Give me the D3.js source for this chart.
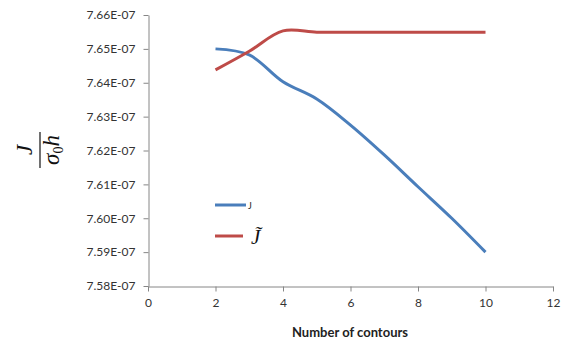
<!DOCTYPE html>
<html>
<head>
<meta charset="utf-8">
<script src="https://cdn.jsdelivr.net/npm/d3@7"></script>
<style>
  body { margin: 0; background: #fff; }
  svg text { font-family: Lato, "Open Sans", sans-serif; }
</style>
</head>
<body>
<div id="chart"></div>
<script>
// Chart data
const contours = [2, 3, 4, 5, 6, 7, 8, 9, 10];
const jValues = [7.650e-7, 7.6482e-7, 7.6403e-7, 7.6352e-7, 7.6275e-7, 7.6187e-7, 7.6093e-7, 7.6000e-7, 7.5900e-7];
const jTildeValues = [7.6438e-7, 7.6493e-7, 7.6553e-7, 7.6549e-7, 7.6549e-7, 7.6549e-7, 7.6549e-7, 7.6549e-7, 7.6549e-7];
const xTicks = [0, 2, 4, 6, 8, 10, 12];
const yTicks = [7.58e-7, 7.59e-7, 7.60e-7, 7.61e-7, 7.62e-7, 7.63e-7, 7.64e-7, 7.65e-7, 7.66e-7];
const seriesNames = ['J', 'J\u0303'];
const seriesColors = ['#4a7ebb', '#be4b48'];
const xTitle = 'Number of contours';

const width = 561, height = 342;
const margin = {top: 15, right: 8, bottom: 56, left: 148};

const svg = d3.select('#chart')
  .append('svg')
  .attr('width', width)
  .attr('height', height);

const x = d3.scaleLinear().domain([0, 12]).range([margin.left, width - margin.right]);
const y = d3.scaleLinear().domain([7.58e-7, 7.66e-7]).range([height - margin.bottom, margin.top]);

// Axes
const axisColor = '#868686';

const gY = svg.append('g')
  .attr('transform', 'translate(' + (margin.left + 0.5) + ',0)')
  .call(d3.axisLeft(y)
    .tickValues(yTicks)
    .tickSize(5)
    .tickSizeOuter(0)
    .tickPadding(8)
    .tickFormat(d => (d * 1e7).toFixed(2) + 'E-07'));

const gX = svg.append('g')
  .attr('transform', 'translate(0,' + (y.range()[0] + 0.5) + ')')
  .call(d3.axisBottom(x)
    .tickValues(xTicks)
    .tickSize(5)
    .tickSizeOuter(0)
    .tickPadding(7)
    .tickFormat(d3.format('d')));

[gX, gY].forEach(g => {
  g.select('.domain').attr('stroke', axisColor);
  g.selectAll('.tick line').attr('stroke', axisColor);
  g.selectAll('.tick text')
    .attr('fill', '#333')
    .style('font-size', '12px');
});

// X axis title
svg.append('text')
  .attr('x', 350)
  .attr('y', 337)
  .attr('text-anchor', 'middle')
  .style('font-size', '13px')
  .style('font-weight', 'bold')
  .attr('fill', '#222')
  .text(xTitle);

// Y axis title: J / (sigma_0 h), rotated
const yTitle = svg.append('g')
  .attr('transform', 'translate(38,150) rotate(-90)')
  .style('font-family', '"Liberation Serif", "DejaVu Serif", serif')
  .style('font-style', 'italic')
  .attr('fill', '#111');

yTitle.append('text')
  .attr('x', 0)
  .attr('y', -6)
  .attr('text-anchor', 'middle')
  .style('font-family', '"Liberation Serif", serif')
  .style('font-size', '23px')
  .text('J');

yTitle.append('line')
  .attr('x1', -18).attr('x2', 18)
  .attr('y1', 2).attr('y2', 2)
  .attr('stroke', '#111')
  .attr('stroke-width', 1.2);

const den = yTitle.append('text')
  .attr('x', 0)
  .attr('y', 21)
  .attr('text-anchor', 'middle')
  .style('font-family', '"Liberation Serif", serif')
  .style('font-size', '23px');
den.append('tspan').text('\u03c3');
den.append('tspan').attr('dy', 4).style('font-size', '14px').style('font-style', 'normal').text('0');
den.append('tspan').attr('dy', -4).text('h');

// Lines
const line = d3.line()
  .x(d => x(d[0]))
  .y(d => y(d[1]))
  .curve(d3.curveCatmullRom.alpha(0.5));

const series = [jValues, jTildeValues];

series.forEach((vals, i) => {
  svg.append('path')
    .datum(contours.map((c, k) => [c, vals[k]]))
    .attr('fill', 'none')
    .attr('stroke', seriesColors[i])
    .attr('stroke-width', 3)
    .attr('stroke-linejoin', 'round')
    .attr('d', line);
});

// Legend
const legendY = [205, 236];
series.forEach((vals, i) => {
  svg.append('line')
    .attr('x1', 215).attr('x2', i === 0 ? 246 : 243)
    .attr('y1', legendY[i]).attr('y2', legendY[i])
    .attr('stroke', seriesColors[i])
    .attr('stroke-width', 3);
});

svg.append('text')
  .attr('x', 248)
  .attr('y', legendY[0] + 4)
  .style('font-size', '9px')
  .attr('fill', '#222')
  .text(seriesNames[0]);

svg.append('text')
  .attr('x', 251)
  .attr('y', legendY[1] + 8)
  .style('font-family', '"Liberation Serif", serif')
  .style('font-style', 'italic')
  .style('font-size', '21px')
  .attr('fill', '#111')
  .text(seriesNames[1]);
</script>
</body>
</html>
